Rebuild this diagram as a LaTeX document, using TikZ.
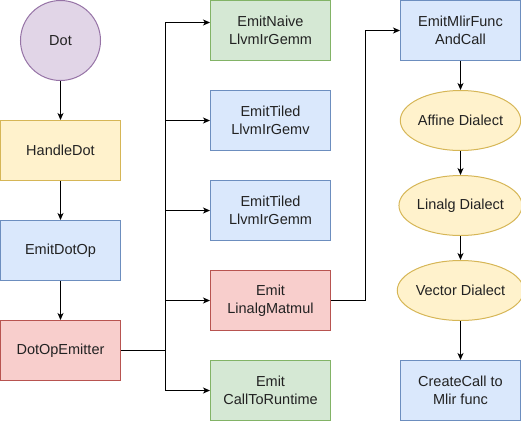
\documentclass[tikz,border=0pt]{standalone}
\usepackage{fontspec}
\setmainfont{Liberation Sans}
\usetikzlibrary{arrows.meta,shapes.geometric}
\definecolor{pfill}{HTML}{E1D5E7}\definecolor{pline}{HTML}{9673A6}
\definecolor{yfill}{HTML}{FFF2CC}\definecolor{yline}{HTML}{D6B656}
\definecolor{bfill}{HTML}{DAE8FC}\definecolor{bline}{HTML}{6C8EBF}
\definecolor{rfill}{HTML}{F8CECC}\definecolor{rline}{HTML}{B85450}
\definecolor{gfill}{HTML}{D5E8D4}\definecolor{gline}{HTML}{82B366}
\definecolor{txt}{HTML}{222222}
\tikzset{
  lbl/.style={font=\fontsize{14.5pt}{18pt}\selectfont, text=txt},
  box/.style={rectangle, minimum width=120pt, minimum height=60pt, inner sep=0pt, line width=1pt, align=center, lbl},
  ell/.style={ellipse, minimum width=120pt, minimum height=60pt, inner sep=0pt, line width=1pt, align=center, lbl},
  purple/.style={fill=pfill, draw=pline},
  yel/.style={fill=yfill, draw=yline},
  blu/.style={fill=bfill, draw=bline},
  redd/.style={fill=rfill, draw=rline},
  grn/.style={fill=gfill, draw=gline},
  conn/.style={line width=1pt, -{Stealth[length=7pt,width=6pt,inset=2pt]}},
  plain/.style={line width=1pt}
}
\begin{document}
\begin{tikzpicture}[x=1pt,y=-1pt]
\useasboundingbox (0,0) rectangle (521,421);
% left column
\node[circle, minimum size=80pt, inner sep=0pt, line width=1pt, purple, lbl] (dot) at (60.5,40.5) {Dot};
\node[box, yel] (handle) at (60.5,150.5) {HandleDot};
\node[box, blu] (emitdot) at (60.5,250.5) {EmitDotOp};
\node[box, redd] (dotop) at (60.5,350.5) {DotOpEmitter};
% middle column
\node[box, grn] (naive) at (270.5,30.5) {EmitNaive\\LlvmIrGemm};
\node[box, blu] (gemv) at (270.5,120.5) {EmitTiled\\LlvmIrGemv};
\node[box, blu] (gemm) at (270.5,210.5) {EmitTiled\\LlvmIrGemm};
\node[box, redd] (linalg) at (270.5,300.5) {Emit\\LinalgMatmul};
\node[box, grn] (runtime) at (270.5,390.5) {Emit\\CallToRuntime};
% right column
\node[box, blu] (mlirfunc) at (460.5,30.5) {EmitMlirFunc\\AndCall};
\node[ell, yel] (affine) at (460.5,120.5) {Affine Dialect};
\node[ell, yel] (linalgd) at (460.5,205.5) {Linalg Dialect};
\node[ell, yel] (vector) at (460.5,290.5) {Vector Dialect};
\node[box, blu] (create) at (460.5,390.5) {CreateCall to\\Mlir func};
% coordinates
\coordinate (tr) at (165.5,350.5);
\coordinate (tn) at (165.5,22.5);
\coordinate (rj) at (365.5,300.5);
% left chain
\draw[conn] (dot) -- (handle);
\draw[conn] (handle) -- (emitdot);
\draw[conn] (emitdot) -- (dotop);
% trunk
\draw[plain] (dotop.east) -- (tr);
\draw[conn] (tr) |- (naive.west |- tn);
\draw[conn] (tr) |- (gemv.west);
\draw[conn] (tr) |- (gemm.west);
\draw[conn] (tr) |- (linalg.west);
\draw[conn] (tr) |- (runtime.west);
% right branch
\draw[conn] (linalg.east) -- (rj) |- (mlirfunc.west);
% right chain
\draw[conn] (mlirfunc) -- (affine);
\draw[conn] (affine) -- (linalgd);
\draw[conn] (linalgd) -- (vector);
\draw[conn] (vector) -- (create);
\end{tikzpicture}
\end{document}
